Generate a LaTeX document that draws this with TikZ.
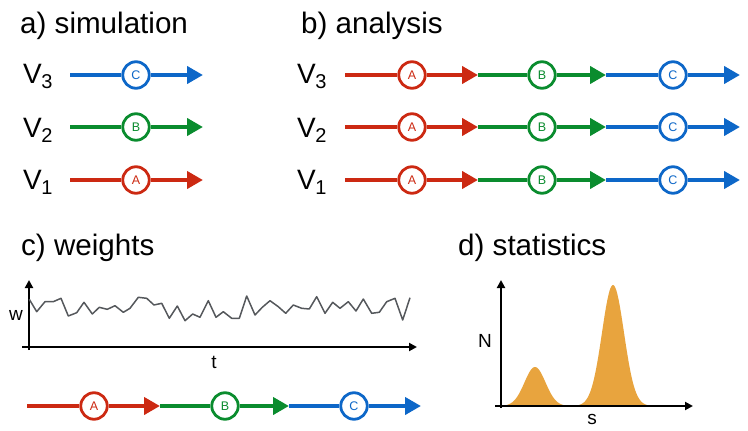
\documentclass[tikz,border=0pt]{standalone}
\usepackage{fontspec}
\setmainfont{Liberation Sans}
\usetikzlibrary{arrows.meta}
\definecolor{cred}{RGB}{204,41,18}
\definecolor{cgreen}{RGB}{10,140,46}
\definecolor{cblue}{RGB}{13,103,200}
\definecolor{corange}{RGB}{232,164,62}
\definecolor{cgray}{RGB}{85,88,92}
\tikzset{
 title/.style={anchor=base west, inner sep=0, font=\fontsize{29.6}{34}\selectfont},
 vlab/.style={anchor=base west, inner sep=0, font=\fontsize{28}{32}\selectfont},
 stage/.style={circle, draw=#1, text=#1, fill=white, line width=2.8pt, minimum size=26.5pt, inner sep=0, font=\fontsize{12.5}{14}\selectfont},
 flow/.style={draw=#1, line width=4pt},
 flowtip/.style={draw=#1, fill=#1, line width=4pt, -{Triangle[length=16pt,width=17pt]}},
 axis/.style={line width=2pt, -{Triangle[length=8pt,width=8pt]}},
 axlab/.style={font=\fontsize{19}{21}\selectfont, inner sep=0},
}
\newcommand{\Vsub}[1]{V\kern-0.5pt\raisebox{-5pt}{\fontsize{20}{22}\selectfont #1}}
\begin{document}
\begin{tikzpicture}[x=1pt,y=-1pt]
\useasboundingbox (0,0) rectangle (748,431);
% titles
\node[title] (ta) at (20,33) {a) simulation};
\node[title] (tb) at (301,33) {b) analysis};
\node[title] (tc) at (21,255) {c) weights};
\node[title] (td) at (458,255) {d) statistics};
% a) simulation
\node[vlab] (a3) at (23,83.5) {\Vsub{3}};
\node[vlab] (a2) at (23,137) {\Vsub{2}};
\node[vlab] (a1) at (23,189.5) {\Vsub{1}};
\foreach \r/\y/\c/\l in {3/75/cblue/C,2/127/cgreen/B,1/180/cred/A}{
  \coordinate (as\r) at (70,\y);
  \coordinate (ae\r) at (203,\y);
  \node[stage=\c] (ac\r) at (136,\y) {\l};
  \draw[flow=\c] (as\r) -- (ac\r);
  \draw[flowtip=\c] (ac\r) -- (ae\r);
}
% b) analysis
\node[vlab] (b3) at (297,83.5) {\Vsub{3}};
\node[vlab] (b2) at (297,137) {\Vsub{2}};
\node[vlab] (b1) at (297,189.5) {\Vsub{1}};
\foreach \r/\y in {3/75,2/127,1/180}{
  \coordinate (bs\r) at (345,\y);
  \coordinate (bj\r) at (478,\y);
  \coordinate (bk\r) at (606,\y);
  \coordinate (be\r) at (740,\y);
  \node[stage=cred] (bA\r) at (412,\y) {A};
  \node[stage=cgreen] (bB\r) at (542,\y) {B};
  \node[stage=cblue] (bC\r) at (673,\y) {C};
  \draw[flow=cgreen] (bj\r) -- (bB\r);
  \draw[flow=cblue] (bk\r) -- (bC\r);
  \draw[flow=cred] (bs\r) -- (bA\r);
  \draw[flowtip=cred] (bA\r) -- (bj\r);
  \draw[flowtip=cgreen] (bB\r) -- (bk\r);
  \draw[flowtip=cblue] (bC\r) -- (be\r);
}
% c) weights
\coordinate (cy0) at (29,350);
\coordinate (cy1) at (29,280);
\coordinate (cx0) at (22,347);
\coordinate (cx1) at (417,347);
\draw[axis] (cy0) -- (cy1);
\draw[axis] (cx0) -- (cx1);
\node[axlab] (w) at (16,315) {w};
\node[axlab] (t) at (214,362) {t};
\draw[cgray, line width=1.5pt, line join=round] (29.3,299.3) -- (36.7,311.7) -- (45,301.7) -- (53.3,301.7) -- (61,298.3) -- (68.3,316) -- (76.7,312.7) -- (84,302.3) -- (92.3,314) -- (99.3,307.3) -- (107.3,309.3) -- (115,305.7) -- (123.3,312.3) -- (130,308.3) -- (138.3,297.3) -- (146.7,298.3) -- (154,305) -- (161.7,303.3) -- (169.3,318.3) -- (177.3,306) -- (185,320.7) -- (192.7,314) -- (200,317.3) -- (208.3,300.7) -- (216,317.3) -- (223.3,311.7) -- (231.7,318.3) -- (239.3,318.3) -- (246.7,296) -- (255,315) -- (262.3,307.3) -- (270,300.7) -- (278.3,306.7) -- (285.7,313.3) -- (293.3,305) -- (301.7,308.3) -- (309.3,309) -- (316.7,296.7) -- (325,313.3) -- (332.7,302.3) -- (340,308.3) -- (348.3,301.7) -- (356,311) -- (363.3,299) -- (371.7,313.3) -- (379.3,312.3) -- (386.7,301.7) -- (395,298.3) -- (402.7,320) -- (410,297.7);
% c) flow
\coordinate (cs) at (27,406);
\coordinate (cj) at (160,406);
\coordinate (ck) at (289,406);
\coordinate (ce) at (421,406);
\node[stage=cred] (cA) at (94,406) {A};
\node[stage=cgreen] (cB) at (225,406) {B};
\node[stage=cblue] (cC) at (354,406) {C};
\draw[flow=cgreen] (cj) -- (cB);
\draw[flow=cblue] (ck) -- (cC);
\draw[flow=cred] (cs) -- (cA);
\draw[flowtip=cred] (cA) -- (cj);
\draw[flowtip=cgreen] (cB) -- (ck);
\draw[flowtip=cblue] (cC) -- (ce);
% d) statistics
\fill[corange] (503,406) -- plot[domain=503:665, samples=220, smooth] (\x, {406 - 39*exp(-0.5*((\x-535)/10.5)^2) - 121*exp(-0.5*((\x-613)/11)^2)}) -- (665,406) -- cycle;
\coordinate (dy0) at (501,408);
\coordinate (dy1) at (501,280);
\coordinate (dx0) at (495,406);
\coordinate (dx1) at (693,406);
\draw[axis] (dy0) -- (dy1);
\draw[axis] (dx0) -- (dx1);
\node[axlab] (N) at (485,341) {N};
\node[axlab] (s) at (592,419) {s};
\end{tikzpicture}
\end{document}
